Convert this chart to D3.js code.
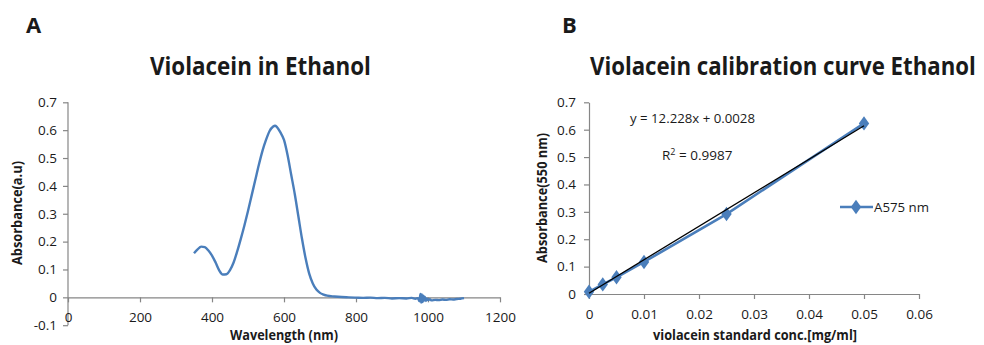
<!DOCTYPE html>
<html>
<head>
<meta charset="utf-8">
<script src="https://cdn.jsdelivr.net/npm/d3@7"></script>
<style>
  html, body { margin: 0; padding: 0; background: #fff; }
  svg { display: block; }
  text { font-family: "Open Sans", Lato, sans-serif; fill: #1a1a1a; }
</style>
</head>
<body>
<svg id="chart" width="984" height="345"></svg>
<script>
// ---------- Panel A data: absorption spectrum ----------
const wavelengths = [350,360,370,380,390,400,410,420,430,440,450,460,470,480,490,500,510,520,530,540,550,560,570,575,580,590,600,610,620,630,640,650,660,670,680,690,700,710,720,740,760,780,800,820,840,860,880,900,920,940,955,965,972,976,979,981,983,985,987,989,991,994,997,1000,1005,1010,1020,1030,1040,1050,1060,1070,1080,1090,1100];
const absorbance  = [0.158,0.172,0.182,0.180,0.168,0.150,0.125,0.097,0.082,0.083,0.098,0.125,0.165,0.210,0.258,0.310,0.365,0.420,0.475,0.525,0.565,0.597,0.613,0.616,0.612,0.592,0.565,0.510,0.440,0.370,0.290,0.210,0.140,0.085,0.050,0.028,0.016,0.010,0.006,0.003,0.001,0.000,-0.001,-0.002,-0.001,-0.003,-0.002,-0.004,-0.003,-0.004,-0.002,-0.005,-0.003,-0.014,0.012,-0.019,0.010,-0.017,0.006,-0.012,0.002,-0.013,-0.004,-0.010,-0.007,-0.011,-0.009,-0.010,-0.008,-0.009,-0.007,-0.008,-0.006,-0.005,-0.003];
const xTicksA = [0,200,400,600,800,1000,1200];
const yTicksA = [-0.1,0,0.1,0.2,0.3,0.4,0.5,0.6,0.7];

// ---------- Panel B data: calibration curve ----------
const concentrations = [0, 0.0025, 0.005, 0.01, 0.025, 0.05];
const a575 = [0.008, 0.035, 0.061, 0.117, 0.292, 0.623];
const trendSlope = 12.228;
const trendIntercept = 0.0028;
const xTicksB = [0,0.01,0.02,0.03,0.04,0.05,0.06];
const yTicksB = [0,0.1,0.2,0.3,0.4,0.5,0.6,0.7];

const svg = d3.select("#chart");
const axisColor = "#868686";
const seriesColor = "#4a7ebb";
const FONT = "'Open Sans', Lato, sans-serif";

function styleAxis(g) {
  g.select(".domain").attr("stroke", axisColor).attr("stroke-width", 1.2);
  g.selectAll(".tick line").attr("stroke", axisColor).attr("stroke-width", 1.2);
  g.selectAll(".tick text").attr("fill", "#1a1a1a").style("font-size", "13.5px")
    .style("font-family", FONT);
}

function fitText(sel, width) {
  sel.attr("textLength", width).attr("lengthAdjust", "spacingAndGlyphs");
}

// title drawn at natural size then squeezed horizontally to a target width
function squeezedTitle(label, x, y, width, size) {
  const t = svg.append("text").attr("x", 0).attr("y", 0).text(label)
    .style("font-size", size + "px").style("font-weight", "bold");
  const len = t.node().getComputedTextLength();
  t.attr("transform", `translate(${x},${y}) scale(${width / len},1)`);
  return t;
}

// ================= Panel A =================
const xA = d3.scaleLinear().domain([0, 1200]).range([68, 500]);
const yA = d3.scaleLinear().domain([-0.1, 0.7]).range([325.2, 102.3]);

svg.append("text").attr("x", 26).attr("y", 33).text("A")
  .style("font-size", "22px").style("font-weight", "bold");
squeezedTitle("Violacein in Ethanol", 150, 75, 221, 25);

const gyA = svg.append("g").attr("transform", `translate(${xA(0)},0)`)
  .call(d3.axisLeft(yA).tickValues(yTicksA).tickSize(5).tickPadding(6)
    .tickFormat(d => String(+d.toFixed(1))));
styleAxis(gyA);
gyA.select(".domain").attr("d", `M-0,${yA(-0.1)}V${yA(0.7)}`);

const gxA = svg.append("g").attr("transform", `translate(0,${yA(0)})`)
  .call(d3.axisBottom(xA).tickValues(xTicksA).tickSize(5).tickSizeOuter(0)
    .tickFormat(d => String(d)));
styleAxis(gxA);
gxA.selectAll(".tick text").attr("y", 15).attr("dy", "0.71em");

svg.append("text").attr("x", 284).attr("y", 340).attr("text-anchor", "middle")
  .text("Wavelength (nm)").style("font-size", "13.5px").style("font-weight", "bold").call(fitText, 108);
svg.append("text").attr("transform", `translate(22,213) rotate(-90)`).attr("text-anchor", "middle")
  .text("Absorbance(a.u)").style("font-size", "13.5px").style("font-weight", "bold").call(fitText, 104);

const specData = wavelengths.map((w, i) => [w, absorbance[i]]);
svg.append("path").datum(specData)
  .attr("fill", "none").attr("stroke", seriesColor).attr("stroke-width", 2.4)
  .attr("stroke-linejoin", "round")
  .attr("d", d3.line().x(d => xA(d[0])).y(d => yA(d[1])).curve(d3.curveMonotoneX));

// ================= Panel B =================
const xB = d3.scaleLinear().domain([0, 0.06]).range([589, 919]);
const yB = d3.scaleLinear().domain([0, 0.7]).range([294, 102.3]);

svg.append("text").attr("x", 562).attr("y", 33).text("B")
  .style("font-size", "22px").style("font-weight", "bold");
squeezedTitle("Violacein calibration curve Ethanol", 590, 75, 386, 25);

const gyB = svg.append("g").attr("transform", `translate(${xB(0)},0)`)
  .call(d3.axisLeft(yB).tickValues(yTicksB).tickSize(5).tickPadding(8).tickSizeOuter(0)
    .tickFormat(d => String(+d.toFixed(1))));
styleAxis(gyB);

const gxB = svg.append("g").attr("transform", `translate(0,${yB(0)})`)
  .call(d3.axisBottom(xB).tickValues(xTicksB).tickSize(5).tickSizeOuter(0)
    .tickFormat(d => String(+d.toFixed(2))));
styleAxis(gxB);
gxB.selectAll(".tick text").attr("y", 15).attr("dy", "0.71em");

svg.append("text").attr("x", 755).attr("y", 340).attr("text-anchor", "middle")
  .text("violacein standard conc.[mg/ml]").style("font-size", "13.5px").style("font-weight", "bold").call(fitText, 204);
svg.append("text").attr("transform", `translate(547,198) rotate(-90)`).attr("text-anchor", "middle")
  .text("Absorbance(550 nm)").style("font-size", "13.5px").style("font-weight", "bold").call(fitText, 130);

const calData = concentrations.map((c, i) => [c, a575[i]]);
svg.append("path").datum(calData)
  .attr("fill", "none").attr("stroke", seriesColor).attr("stroke-width", 2.6)
  .attr("d", d3.line().x(d => xB(d[0])).y(d => yB(d[1])));

const diamond = d3.symbol().type(d3.symbolDiamond).size(60);
svg.append("g").selectAll("path").data(calData).join("path")
  .attr("transform", d => `translate(${xB(d[0])},${yB(d[1])}) scale(1.25,1)`)
  .attr("d", diamond).attr("fill", seriesColor);

// trendline
const trendX = [0, 0.05];
svg.append("path").datum(trendX.map(x => [x, trendSlope * x + trendIntercept]))
  .attr("fill", "none").attr("stroke", "#000").attr("stroke-width", 1.3)
  .attr("d", d3.line().x(d => xB(d[0])).y(d => yB(d[1])));

svg.append("text").attr("x", 630).attr("y", 123).text("y = 12.228x + 0.0028")
  .style("font-size", "13.5px").call(fitText, 125);
const r2 = svg.append("text").attr("x", 662).attr("y", 160).style("font-size", "13.5px");
r2.append("tspan").text("R");
r2.append("tspan").attr("dy", -5).style("font-size", "9px").text("2");
r2.append("tspan").attr("dy", 5).text(" = 0.9987");

// legend
svg.append("line").attr("x1", 840).attr("x2", 873).attr("y1", 207).attr("y2", 207)
  .attr("stroke", seriesColor).attr("stroke-width", 2.6);
svg.append("path").attr("transform", "translate(856,207) scale(1.25,1)").attr("d", diamond).attr("fill", seriesColor);
svg.append("text").attr("x", 874).attr("y", 212).text("A575 nm").style("font-size", "13.5px").call(fitText, 55);
</script>
</body>
</html>
